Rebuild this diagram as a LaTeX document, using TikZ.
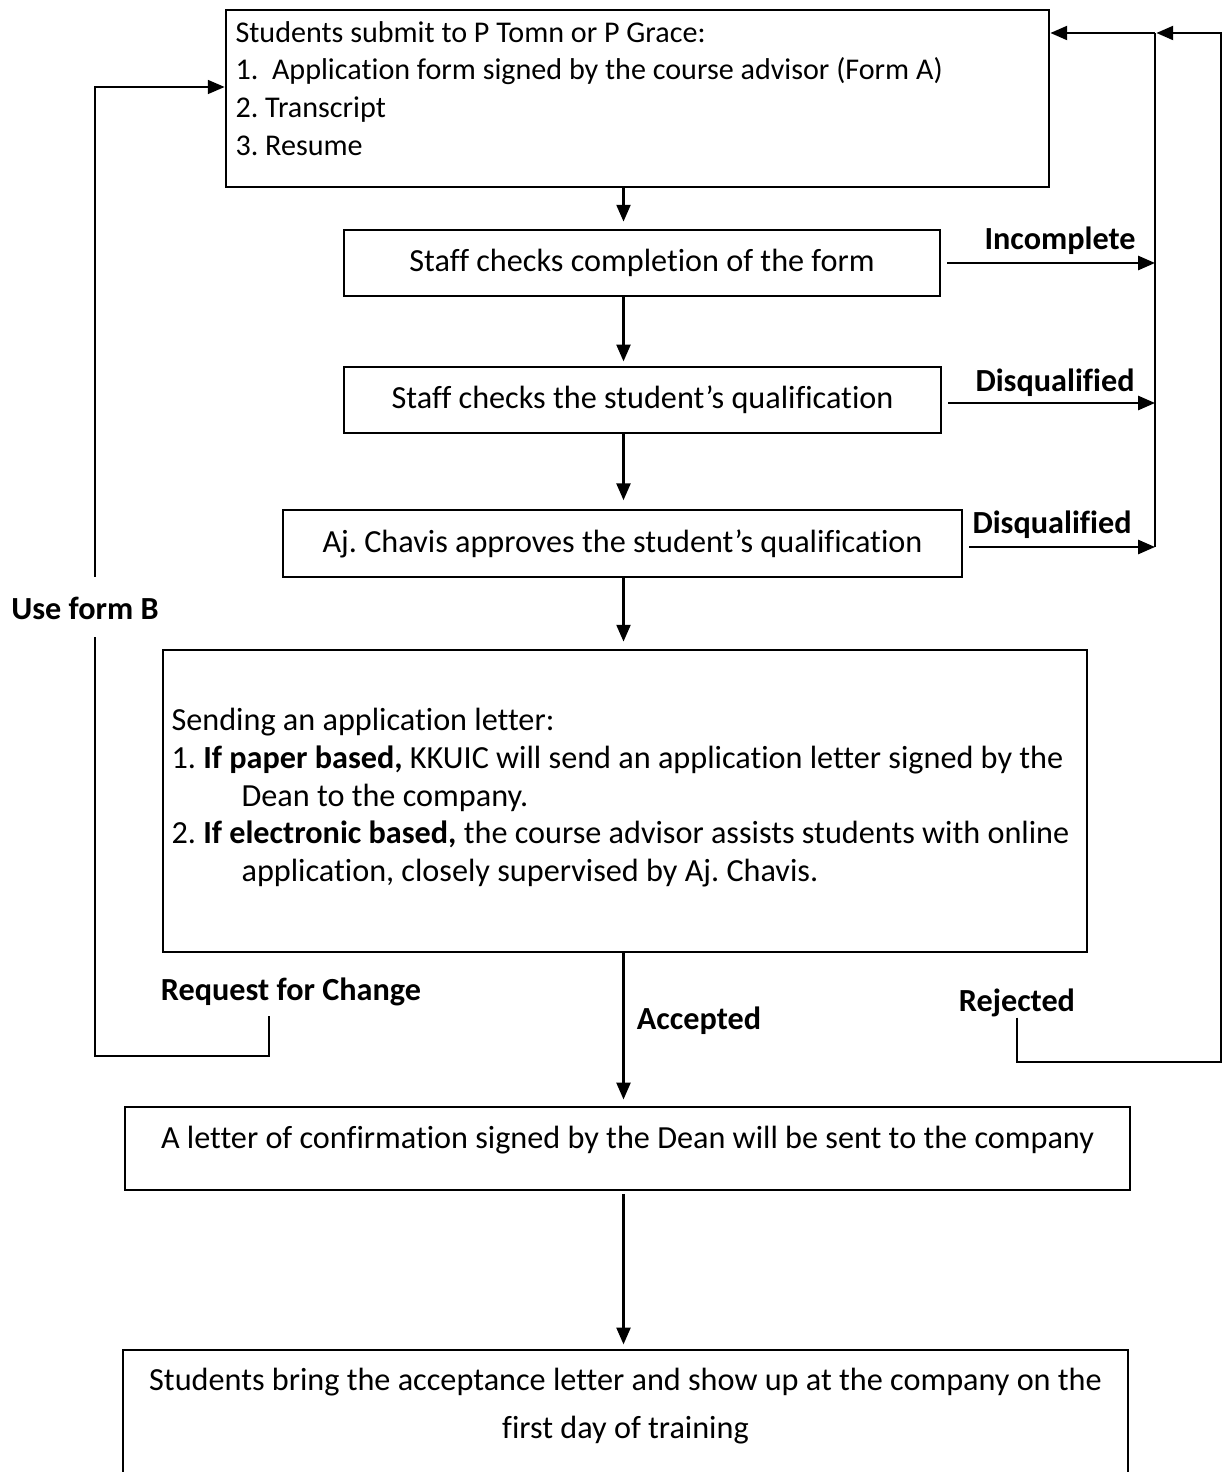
\documentclass[tikz,border=0pt]{standalone}
\usepackage{fontspec}
\setmainfont{Carlito}[Ligatures={TeX,NoCommon}]
\usepackage{tikz}
\usetikzlibrary{arrows.meta}
\newdimen\pxu
\pxu=0.357pt
\frenchspacing

\begin{document}
\begin{tikzpicture}[x=0.357pt,y=-0.357pt,
		every node/.style={font=\fontsize{11.5pt}{13.4pt}\selectfont},
		box/.style={draw=black,line width=1pt,inner sep=0pt},
		line/.style={line width=0.8pt},
		arr/.style={line,-{Triangle[length=6pt,width=5pt]}},
		lbl/.style={font=\fontsize{11.5pt}{13.4pt}\selectfont\bfseries,inner sep=0pt}]
		\useasboundingbox (0,0) rectangle (1224,1472);
		
		\node[box,minimum width=823*\pxu,minimum height=177*\pxu] (submit) at (637.5,98.5) {};
		\node[anchor=north west,align=left,inner sep=0pt,font=\fontsize{10.75pt}{13.4pt}\selectfont] (submittxt) at (235,21) {Students submit to P Tomn or P Grace:\\1.\ \ Application form signed by the course advisor (Form A)\\2. Transcript\\3. Resume};
		
		\node[box,minimum width=596*\pxu,minimum height=66*\pxu] (check) at (642,263) {Staff checks completion of the form};
		
		\node[box,minimum width=597*\pxu,minimum height=66*\pxu] (qual) at (642.5,400) {Staff checks the student's qualification};
		
		\node[box,minimum width=679*\pxu,minimum height=67*\pxu] (approve) at (622.5,543.5) {Aj. Chavis approves the student's qualification};
		
		\node[box,minimum width=924*\pxu,minimum height=302*\pxu] (letter) at (625,801) {};
		\node[anchor=north west,align=left,inner sep=0pt] (lettertxt) at (171,708) {Sending an application letter:\\1. \textbf{If paper based,} KKUIC will send an application letter signed by the\\\hspace*{25pt}Dean to the company.\\2. \textbf{If electronic based,} the course advisor assists students with online\\\hspace*{25pt}application, closely supervised by Aj. Chavis.};
		
		\node[box,minimum width=1005*\pxu,minimum height=83*\pxu,text depth=8pt] (confirm) at (627.5,1148.5) {A letter of confirmation signed by the Dean will be sent to the company};
		
		\node[box,minimum width=1005*\pxu,minimum height=140*\pxu] (show) at (625.5,1420) {};
		\node[anchor=north,align=center,inner sep=0pt] (showtxt) at (625.5,1368) {Students bring the acceptance letter and show up at the company on the\\[3.4pt]first day of training};
		
		\coordinate (spine) at (623.5,0);
		\draw[arr,shorten >=2.5pt] (submit.south -| spine)--(check.north -| spine);
		\draw[arr,shorten >=1.5pt] (check.south -| spine)--(qual.north -| spine);
		\draw[arr,shorten >=3pt] (qual.south -| spine)--(approve.north -| spine);
		\draw[arr,shorten >=2.5pt] (approve.south -| spine)--(letter.north -| spine);
		\draw[arr,shorten >=2.2pt] (letter.south -| spine)--(confirm.north -| spine);
		\draw[arr,shorten <=1pt,shorten >=1.5pt] (confirm.south -| spine)--(show.north -| spine);
		
		\node[lbl] (inc) at (1060,241) {Incomplete};
		\node[lbl] (dis1) at (1055,383) {Disqualified};
		\node[lbl] (dis2) at (1052,525) {Disqualified};
		\node[lbl] (acc) at (699,1021) {Accepted};
		\node[lbl] (rej) at (1017,1003) {Rejected};
		\node[lbl] (req) at (291,992) {Request for Change};
		\node[lbl] (usefb) at (85,608) {Use form B};
		
		\coordinate (rtop) at (1155,33);
		\coordinate (rbot) at (1155,547);
		\coordinate (rout) at (1221,1062);
		\draw[line] (rtop)--(rbot);
		\draw[arr] (rtop)--(submit.east |- rtop);
		\draw[arr,shorten <=2pt] (check.east)--(check.east -| rtop);
		\draw[arr,shorten <=2pt] ([yshift=-3*\pxu]qual.east)--([yshift=-3*\pxu]qual.east -| rtop);
		\draw[arr,shorten <=2pt] ([yshift=-3.5*\pxu]approve.east)--([yshift=-3.5*\pxu]approve.east -| rtop);
		\draw[arr,shorten >=0.5pt] (rej.south) |- (rout) |- (rtop);
		
		\coordinate (reqfoot) at (269,1016);
		\coordinate (lcorner) at (95,1056);
		\coordinate (ltop) at (95,87);
		\draw[line,line width=0.6pt,shorten >=6pt] (reqfoot) |- (lcorner)--(usefb.south -| lcorner);
		\draw[arr,line width=0.6pt,shorten <=7pt] (usefb.north -| ltop)--(ltop)--(submit.west |- ltop);
	\end{tikzpicture}
\end{document}
